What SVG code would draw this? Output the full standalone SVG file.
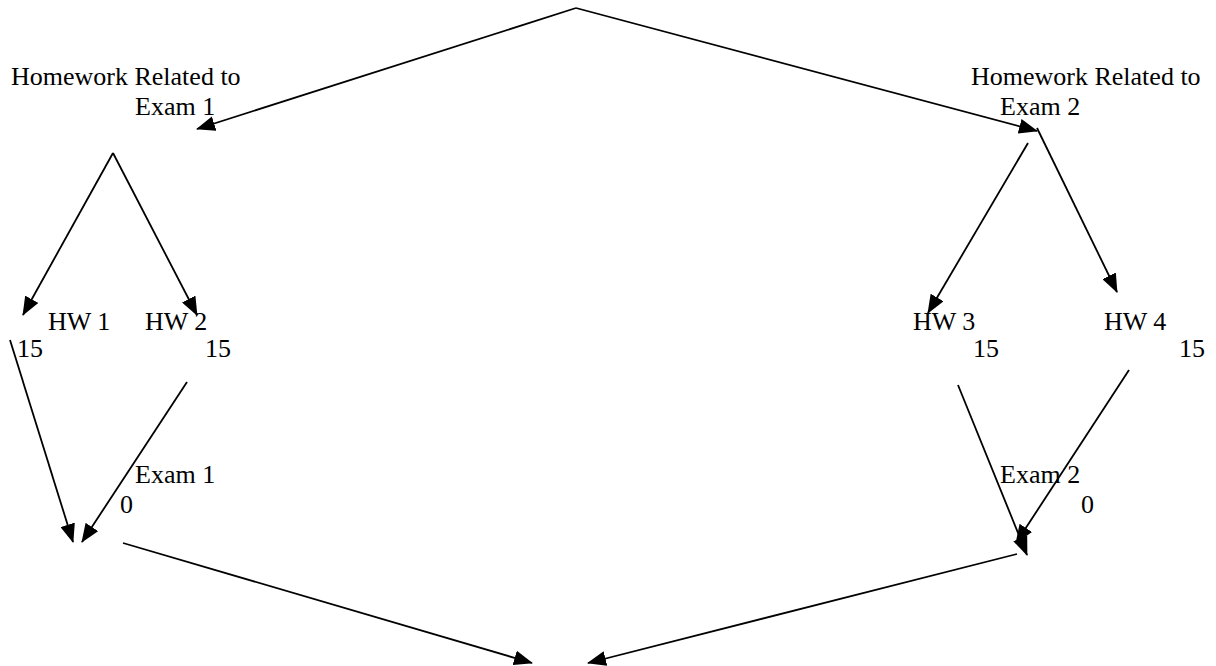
<svg xmlns="http://www.w3.org/2000/svg" width="1216" height="666" viewBox="0 0 1216 666">
<style>
text{font-family:"Liberation Serif","Times New Roman",serif;font-size:26px;fill:#000}
.c line{stroke:#000;stroke-width:1.8;fill:none}
</style>
<defs>
<marker id="ah" markerUnits="userSpaceOnUse" markerWidth="19" markerHeight="15" refX="18" refY="7.5" orient="auto" viewBox="0 0 19 15">
<path d="M0,0 L19,7.5 L0,15 z" fill="#000"/>
</marker>
</defs>
<rect width="1216" height="666" fill="#fff"/>
<g class="c" id="connectors">
<line x1="576" y1="8" x2="197" y2="129" marker-end="url(#ah)"/>
<line x1="576" y1="8" x2="1037" y2="131" marker-end="url(#ah)"/>
<line x1="113" y1="153" x2="23" y2="315" marker-end="url(#ah)"/>
<line x1="113" y1="153" x2="197" y2="315" marker-end="url(#ah)"/>
<line x1="1028" y1="143" x2="928" y2="313" marker-end="url(#ah)"/>
<line x1="1037" y1="128" x2="1117" y2="292" marker-end="url(#ah)"/>
<line x1="10" y1="340" x2="73" y2="542" marker-end="url(#ah)"/>
<line x1="187" y1="382" x2="82" y2="542" marker-end="url(#ah)"/>
<line x1="958" y1="385" x2="1027" y2="555" marker-end="url(#ah)"/>
<line x1="1129" y1="370" x2="1016" y2="543" marker-end="url(#ah)"/>
<line x1="123" y1="543" x2="532" y2="663" marker-end="url(#ah)"/>
<line x1="1017" y1="554" x2="588" y2="663" marker-end="url(#ah)"/>
</g>
<g id="hw-exam1"><text x="11" y="85">Homework Related to</text><text x="135" y="115">Exam 1</text></g>
<g id="hw-exam2"><text x="971" y="85">Homework Related to</text><text x="1000" y="115">Exam 2</text></g>
<g id="hw1"><text x="48" y="330">HW 1</text><text x="17" y="357">15</text></g>
<g id="hw2"><text x="145" y="330">HW 2</text><text x="205" y="357">15</text></g>
<g id="hw3"><text x="913" y="330">HW 3</text><text x="973" y="357">15</text></g>
<g id="hw4"><text x="1104" y="330">HW 4</text><text x="1179" y="357">15</text></g>
<g id="exam1"><text x="135" y="483">Exam 1</text><text x="120" y="513">0</text></g>
<g id="exam2"><text x="1000" y="483">Exam 2</text><text x="1081" y="513">0</text></g>
</svg>
